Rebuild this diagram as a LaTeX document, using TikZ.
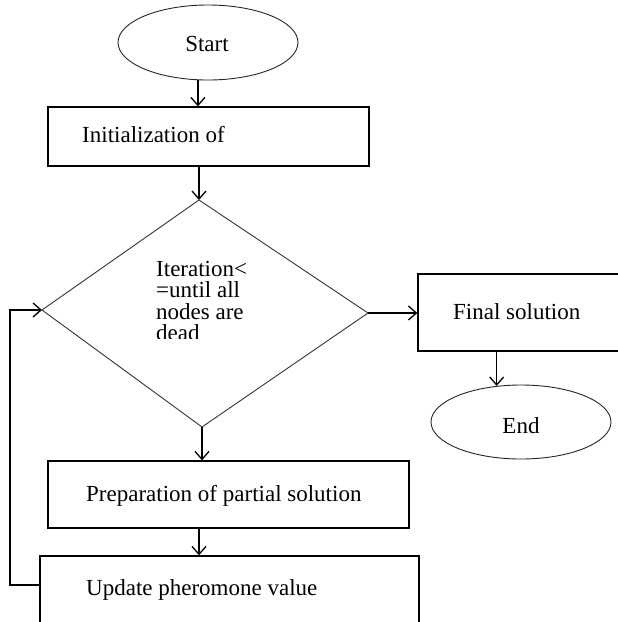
\documentclass[tikz,border=0pt]{standalone}
\usepackage{fontspec}
\setmainfont{Liberation Serif}
\usetikzlibrary{arrows.meta,shapes.geometric,calc}
\begin{document}
\begin{tikzpicture}[x=1pt,y=-1pt,
  box/.style={draw=black, line width=1.3pt, rectangle, inner sep=0pt},
  oval/.style={draw=black!85, line width=0.9pt, ellipse, inner sep=0pt},
  txt/.style={inner sep=0pt, font=\fontsize{23}{21.5}\selectfont},
  arr/.style={line width=1.3pt, -{Straight Barb[length=8pt,width=14pt,line width=1.3pt]}},
  plain/.style={line width=1.3pt}]
\useasboundingbox (0,0) rectangle (618,622);
\clip (0,0) rectangle (618,622);
% shapes
\node[oval, minimum width=180pt, minimum height=75pt] (start) at (208,42.5) {};
\node[txt] (startt) at (207,44) {Start};
\node[box, minimum width=321pt, minimum height=59pt] (init) at (208.5,136.5) {};
\node[txt, anchor=west] (initt) at (82,135) {Initialization of};
\coordinate (dT) at (199,200);
\coordinate (dL) at (42,310);
\coordinate (dR) at (368,313);
\coordinate (dB) at (202,427);
\draw[line width=0.9pt, black!80] (dT) -- (dR) -- (dB) -- (dL) -- cycle;
\begin{scope}
\clip (100,240) rectangle (330,338);
\node[txt, anchor=north west, align=left] (dect) at (156,261) {Iteration<\\=until all\\nodes are\\dead};
\end{scope}
\node[box, minimum width=212pt, minimum height=77pt] (fin) at (524,312.5) {};
\node[txt, anchor=west] (fint) at (453,312) {Final solution};
\node[oval, minimum width=180pt, minimum height=74pt] (end) at (521,422) {};
\node[txt] (endt) at (521,426) {End};
\node[box, minimum width=361pt, minimum height=67pt] (prep) at (228.5,494.5) {};
\node[txt, anchor=west] (prept) at (86,496) {Preparation of partial solution};
\node[box, minimum width=379pt, minimum height=76pt] (upd) at (229.5,594) {};
\node[txt, anchor=west] (updt) at (86,590) {Update pheromone value};
\coordinate (fb) at (10,585);
% connectors
\draw[arr] (start.255) -- (start.255 |- init.north);
\draw[arr] (init.south -| dT) -- (dT);
\draw[arr] (dR) -- (fin.west |- dR);
\draw[arr] (end.124 |- fin.south) -- (end.124);
\draw[arr] (dB) -- (dB |- prep.north);
\draw[arr] (prep.south -| dT) -- (upd.north -| dT);
\draw[arr] (upd.west |- fb) -- (fb) |- (dL);
\end{tikzpicture}
\end{document}
